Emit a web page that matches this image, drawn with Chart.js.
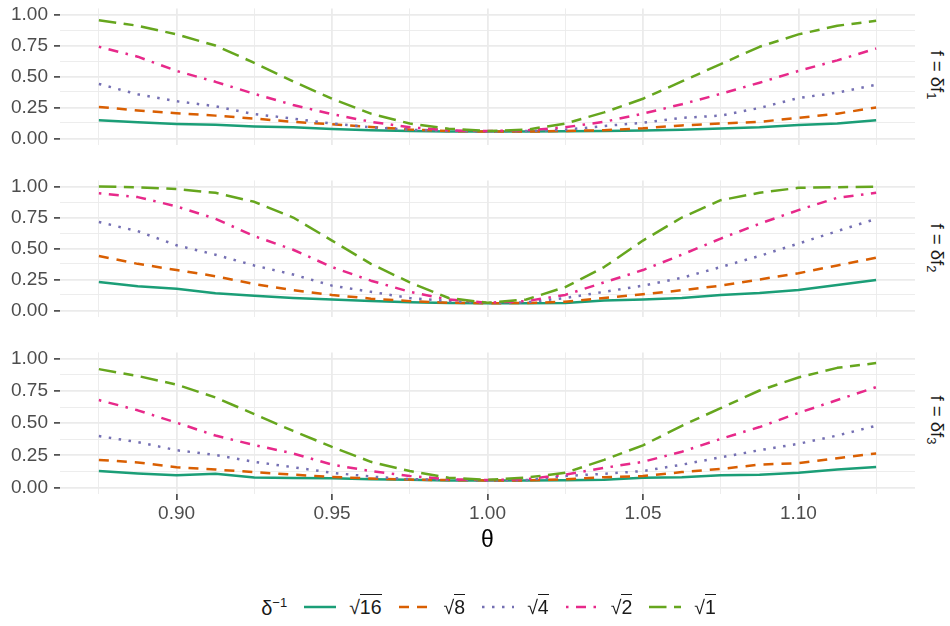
<!DOCTYPE html>
<html>
<head>
<meta charset="utf-8">
<script src="https://cdn.jsdelivr.net/npm/chart.js@4.4.1/dist/chart.umd.min.js"></script>
<style>
  body { margin: 0; width: 950px; height: 626px; background: #fff; position: relative; overflow: hidden;
         font-family: "Liberation Sans", Arial, sans-serif; }
  .panel { position: absolute; left: 0; }
  .strip { position: absolute; font-size: 18.5px; color: #1a1a1a; white-space: nowrap;
           transform: translate(-50%, -50%) rotate(90deg); }
  .strip sub { font-size: 13px; vertical-align: -4px; }
  #xtitle { position: absolute; left: 487.5px; top: 539px; transform: translate(-50%, -50%);
            font-size: 23px; color: #000; }
  #legend { position: absolute; left: 0; width: 977px; top: 594px; height: 26px; display: flex;
            justify-content: center; align-items: center; font-size: 19.5px; color: #1a1a1a; }
  #legend .ttl { font-size: 20px; }
  #legend .ttl sup { font-size: 13px; vertical-align: 8px; }
  #legend canvas { margin-left: 17px; }
  #legend canvas.first { margin-left: 17px; }
  #legend .lab { margin-left: 13px; white-space: nowrap; }
  #legend .ov { border-top: 1.4px solid #1a1a1a; padding-top: 1px; }
</style>
</head>
<body>
<div class="panel" style="top:-9.5px"><canvas id="p1" width="920" height="171"></canvas></div>
<div class="panel" style="top:163px"><canvas id="p2" width="920" height="171"></canvas></div>
<div class="panel" style="top:335px"><canvas id="p3" width="920" height="199"></canvas></div>

<div class="strip" style="left:936px; top:75px">f = δf<sub>1</sub></div>
<div class="strip" style="left:936px; top:248px">f = δf<sub>2</sub></div>
<div class="strip" style="left:936px; top:420px">f = δf<sub>3</sub></div>

<div id="xtitle">θ</div>
<div id="legend"></div>

<script>
// theta grid, tick positions
const theta = [0.875, 0.8875, 0.9, 0.9125, 0.925, 0.9375, 0.95, 0.9625, 0.975, 0.9875, 1.0,
               1.0125, 1.025, 1.0375, 1.05, 1.0625, 1.075, 1.0875, 1.1, 1.1125, 1.125];
const xTicks = [0.875, 0.9, 0.925, 0.95, 0.975, 1.0, 1.025, 1.05, 1.075, 1.1, 1.125];
const yTicks = [0, 0.125, 0.25, 0.375, 0.5, 0.625, 0.75, 0.875, 1];

const seriesNames = ['16', '8', '4', '2', '1'];
const seriesColors = ['#1b9e77', '#d95f02', '#7570b3', '#e7298a', '#66a61e'];
const seriesDash = [[], [10, 8], [2.5, 7.5], [2.5, 7.5, 10, 7.5], [17.5, 7.5, 10, 7.5]];

// f = δf1
const f1_s16 = [0.147, 0.13, 0.117, 0.11, 0.097, 0.09, 0.075, 0.066, 0.06, 0.056, 0.055, 0.055, 0.058, 0.06, 0.063, 0.07, 0.08, 0.09, 0.108, 0.12, 0.147];
const f1_s8  = [0.254, 0.226, 0.204, 0.184, 0.16, 0.134, 0.114, 0.092, 0.072, 0.06, 0.055, 0.055, 0.06, 0.066, 0.082, 0.105, 0.12, 0.134, 0.166, 0.2, 0.25];
const f1_s4  = [0.44, 0.356, 0.3, 0.26, 0.196, 0.16, 0.12, 0.09, 0.07, 0.06, 0.055, 0.06, 0.07, 0.1, 0.127, 0.166, 0.184, 0.246, 0.326, 0.37, 0.433];
const f1_s2  = [0.74, 0.66, 0.545, 0.457, 0.36, 0.27, 0.196, 0.134, 0.09, 0.065, 0.06, 0.065, 0.09, 0.134, 0.2, 0.276, 0.36, 0.45, 0.545, 0.63, 0.726];
const f1_s1  = [0.955, 0.91, 0.84, 0.75, 0.61, 0.46, 0.32, 0.2, 0.12, 0.078, 0.06, 0.07, 0.12, 0.21, 0.32, 0.46, 0.6, 0.74, 0.84, 0.91, 0.95];

// f = δf2
const f2_s16 = [0.23, 0.195, 0.175, 0.138, 0.118, 0.1, 0.088, 0.075, 0.065, 0.06, 0.058, 0.058, 0.06, 0.08, 0.088, 0.1, 0.125, 0.14, 0.165, 0.205, 0.246];
const f2_s8  = [0.44, 0.376, 0.326, 0.276, 0.213, 0.163, 0.125, 0.095, 0.075, 0.062, 0.058, 0.06, 0.07, 0.1, 0.13, 0.163, 0.2, 0.25, 0.3, 0.363, 0.426];
const f2_s4  = [0.714, 0.64, 0.526, 0.45, 0.363, 0.29, 0.2, 0.15, 0.1, 0.075, 0.06, 0.065, 0.1, 0.15, 0.2, 0.263, 0.35, 0.44, 0.54, 0.64, 0.74];
const f2_s2  = [0.947, 0.915, 0.84, 0.74, 0.6, 0.49, 0.35, 0.24, 0.15, 0.088, 0.062, 0.075, 0.125, 0.226, 0.326, 0.45, 0.58, 0.7, 0.81, 0.91, 0.95];
const f2_s1  = [1.0, 0.995, 0.98, 0.95, 0.877, 0.75, 0.564, 0.376, 0.226, 0.1, 0.062, 0.088, 0.188, 0.35, 0.564, 0.75, 0.89, 0.95, 0.99, 0.995, 1.0];

// f = δf3
const f3_s16 = [0.128, 0.11, 0.095, 0.108, 0.078, 0.075, 0.072, 0.065, 0.06, 0.055, 0.055, 0.055, 0.057, 0.06, 0.077, 0.08, 0.095, 0.1, 0.115, 0.14, 0.16];
const f3_s8  = [0.215, 0.195, 0.158, 0.14, 0.12, 0.1, 0.083, 0.07, 0.062, 0.058, 0.055, 0.055, 0.065, 0.08, 0.09, 0.12, 0.145, 0.178, 0.19, 0.228, 0.265];
const f3_s4  = [0.4, 0.353, 0.29, 0.253, 0.2, 0.158, 0.115, 0.085, 0.065, 0.06, 0.055, 0.058, 0.09, 0.107, 0.128, 0.178, 0.235, 0.29, 0.34, 0.404, 0.48];
const f3_s2  = [0.68, 0.6, 0.504, 0.404, 0.33, 0.265, 0.178, 0.128, 0.09, 0.065, 0.058, 0.065, 0.1, 0.153, 0.2, 0.278, 0.378, 0.47, 0.58, 0.68, 0.78];
const f3_s1  = [0.92, 0.867, 0.8, 0.7, 0.57, 0.44, 0.316, 0.2, 0.128, 0.077, 0.06, 0.077, 0.115, 0.215, 0.328, 0.48, 0.617, 0.754, 0.855, 0.93, 0.967];

const isMajorX = v => Math.abs(v * 20 - Math.round(v * 20)) < 1e-6;
const isMajorY = v => Math.abs(v * 4 - Math.round(v * 4)) < 1e-6;

const tickFont = {family: '"Liberation Sans", Arial, sans-serif', size: 19};

const makePanel = function(id, values, showX){
    const datasets = values.map((vals, i) => ({
        label: seriesNames[i],
        data: vals.map((y, j) => ({x: theta[j], y: y})),
        borderColor: seriesColors[i],
        borderWidth: 2.5,
        borderDash: seriesDash[i],
        borderCapStyle: 'butt',
        borderJoinStyle: 'round',
        pointRadius: 0,
        tension: 0,
        order: values.length - i
    }));

    return new Chart(document.getElementById(id), {
        type: 'line',
        data: {datasets},
        options: {
            responsive: false,
            animation: false,
            devicePixelRatio: 1,
            layout: {padding: {top: 12, bottom: showX ? 0 : 12, left: 0, right: 5}},
            plugins: {legend: {display: false}, tooltip: {enabled: false}},
            scales: {
                x: {
                    type: 'linear',
                    min: 0.8625,
                    max: 1.1375,
                    afterBuildTicks: s => { s.ticks = xTicks.map(v => ({value: v})); },
                    afterFit: s => { s.height = showX ? 40 : 0; },
                    border: {display: false},
                    grid: {
                        color: '#ebebeb',
                        lineWidth: c => isMajorX(c.tick.value) ? 1.8 : 0.9,
                        drawTicks: showX,
                        tickLength: 6,
                        tickWidth: 1.5,
                        tickColor: c => isMajorX(c.tick.value) ? '#333333' : 'rgba(0,0,0,0)'
                    },
                    ticks: {
                        display: showX,
                        autoSkip: false,
                        maxRotation: 0,
                        padding: 2,
                        color: '#4d4d4d',
                        font: tickFont,
                        callback: v => isMajorX(v) ? v.toFixed(2) : ''
                    }
                },
                y: {
                    min: -0.05,
                    max: 1.05,
                    afterBuildTicks: s => { s.ticks = yTicks.map(v => ({value: v})); },
                    afterFit: s => { s.width = 60; },
                    border: {display: false},
                    grid: {
                        color: '#ebebeb',
                        lineWidth: c => isMajorY(c.tick.value) ? 1.8 : 0.9,
                        tickLength: 6,
                        tickWidth: 1.5,
                        tickColor: c => isMajorY(c.tick.value) ? '#333333' : 'rgba(0,0,0,0)'
                    },
                    ticks: {
                        autoSkip: false,
                        padding: 6,
                        color: '#4d4d4d',
                        font: tickFont,
                        callback: v => isMajorY(v) ? v.toFixed(2) : ''
                    }
                }
            }
        }
    });
};

makePanel('p1', [f1_s16, f1_s8, f1_s4, f1_s2, f1_s1], false);
makePanel('p2', [f2_s16, f2_s8, f2_s4, f2_s2, f2_s1], false);
makePanel('p3', [f3_s16, f3_s8, f3_s4, f3_s2, f3_s1], true);

// legend: δ^-1 title plus a dashed swatch and a radical label per series
const legend = document.getElementById('legend');
legend.innerHTML = '<span class="ttl">δ<sup>−1</sup></span>';
seriesNames.forEach((name, i) => {
    const sw = document.createElement('canvas');
    sw.width = 32;
    sw.height = 12;
    if(i === 0){
        sw.className = 'first';
    }
    const ctx = sw.getContext('2d');
    ctx.strokeStyle = seriesColors[i];
    ctx.lineWidth = 2.5;
    ctx.setLineDash(seriesDash[i]);
    ctx.beginPath();
    ctx.moveTo(0, 6);
    ctx.lineTo(32, 6);
    ctx.stroke();
    legend.appendChild(sw);

    const lab = document.createElement('span');
    lab.className = 'lab';
    lab.innerHTML = '√<span class="ov">' + name + '</span>';
    legend.appendChild(lab);
});
</script>
</body>
</html>
